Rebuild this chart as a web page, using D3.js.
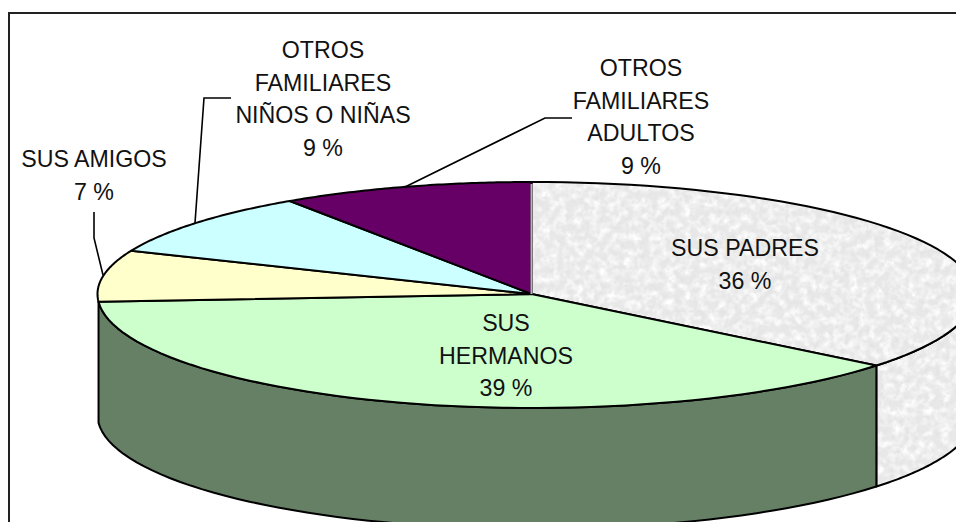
<!DOCTYPE html>
<html><head><meta charset="utf-8">
<script src="https://cdnjs.cloudflare.com/ajax/libs/d3/7.8.5/d3.min.js"></script>
<style>html,body{margin:0;padding:0;background:#fff}svg{display:block}text{font-family:"Liberation Sans",Arial,sans-serif;font-size:23.2px;fill:#111;text-anchor:middle}</style>
</head><body><script>
const categories = ["SUS PADRES", "SUS HERMANOS", "SUS AMIGOS", "OTROS FAMILIARES NIÑOS O NIÑAS", "OTROS FAMILIARES ADULTOS"];
const sliceShares = [35.8, 38.1, 7.4, 9.3, 9.4];
const percentLabels = ["36 %", "39 %", "7 %", "9 %", "9 %"];
const topColors = ["url(#granite)", "#ccffcc", "#ffffcc", "#ccffff", "#660066"];
const sideColors = ["url(#granite)", "#668066", "#808066", "#668080", "#330033"];
const nameLines = [["SUS PADRES"],["SUS","HERMANOS"],["SUS AMIGOS"],["OTROS","FAMILIARES","NIÑOS O NIÑAS"],["OTROS","FAMILIARES","ADULTOS"]];
const labelAnchors = [[745,248],[506,323],[94,159],[323,50],[641,68]];
const lineStep = 32.6;
const leaders = [[[94,212],[94,238],[103,275]],[[231,98],[204,98],[195,223]],[[572,118],[545,118],[405,187]]];

const W=956,H=522,cx=531.5,cy=294,rxRight=443,rxLeft=434,ryTop=112,ryBottom=114,depth=121;
const svg=d3.select("body").append("svg").attr("width",W).attr("height",H);
const defs=svg.append("defs");
const pat=defs.append("pattern").attr("id","granite").attr("patternUnits","userSpaceOnUse").attr("width",W).attr("height",H);
const f=defs.append("filter").attr("id","grain").attr("x",0).attr("y",0).attr("width","100%").attr("height","100%");
f.append("feTurbulence").attr("type","fractalNoise").attr("baseFrequency",0.2).attr("numOctaves",3).attr("seed",4);
f.append("feColorMatrix").attr("type","matrix").attr("values","0 0 0 0 0.76  0 0 0 0 0.76  0 0 0 0 0.76  2.2 0 0 0 -1.05");
f.append("feGaussianBlur").attr("stdDeviation",0.6);
const f2=defs.append("filter").attr("id","grain2").attr("x",0).attr("y",0).attr("width","100%").attr("height","100%");
f2.append("feTurbulence").attr("type","fractalNoise").attr("baseFrequency",0.12).attr("numOctaves",2).attr("seed",11);
f2.append("feColorMatrix").attr("type","matrix").attr("values","0 0 0 0 1  0 0 0 0 1  0 0 0 0 1  2.2 0 0 0 -0.8");
pat.append("rect").attr("width",W).attr("height",H).attr("fill","#e8e8e8");
pat.append("rect").attr("width",W).attr("height",H).attr("filter","url(#grain2)");
pat.append("rect").attr("width",W).attr("height",H).attr("filter","url(#grain)");

svg.append("rect").attr("x",9).attr("y",13).attr("width",W+40).attr("height",H+40).attr("fill","#fff").attr("stroke","#222").attr("stroke-width",2);

const pie=d3.pie().sort(null).value(d=>d.share);
const arcs=pie(categories.map((c,i)=>({name:c,share:sliceShares[i],i})));
const pt=a=>{const s=Math.sin(a),c=Math.cos(a);return [cx+(s>0?rxRight:rxLeft)*s, cy-(c>0?ryTop:ryBottom)*c];};
const sweep=(a0,a1)=>d3.range(0,61).map(k=>pt(a0+(a1-a0)*k/60));
const poly=d3.line();
arcs.forEach(d=>{
  const a0=Math.max(d.startAngle,Math.PI/2), a1=Math.min(d.endAngle,3*Math.PI/2);
  if(a1-a0<0.2) return;
  const rim=sweep(a0,a1), low=rim.map(p=>[p[0],p[1]+depth]).reverse();
  svg.append("path").attr("d",poly(rim.concat(low))+"Z").attr("fill",sideColors[d.data.i]).attr("stroke","#000").attr("stroke-width",2).attr("stroke-linejoin","round");
});
svg.append("g").selectAll("path").data(arcs).join("path")
  .attr("d",d=>poly([[cx,cy]].concat(sweep(d.startAngle,d.endAngle)))+"Z")
  .attr("fill",d=>topColors[d.data.i]).attr("stroke","#000").attr("stroke-width",2).attr("stroke-linejoin","round");
const e0=pt(arcs[0].startAngle);
svg.append("line").attr("x1",cx).attr("y1",cy).attr("x2",e0[0]).attr("y2",e0[1]+2).attr("stroke","#bbb0bb").attr("stroke-width",2);

svg.append("g").selectAll("path").data(leaders).join("path").attr("d",poly).attr("fill","none").attr("stroke","#000").attr("stroke-width",1.6);
nameLines.forEach((ls,i)=>{
  const t=svg.append("text");
  ls.concat(percentLabels[i]).forEach((s,j)=>t.append("tspan").attr("x",labelAnchors[i][0]).attr("y",labelAnchors[i][1]+j*lineStep+8).text(s));
});
</script></body></html>
